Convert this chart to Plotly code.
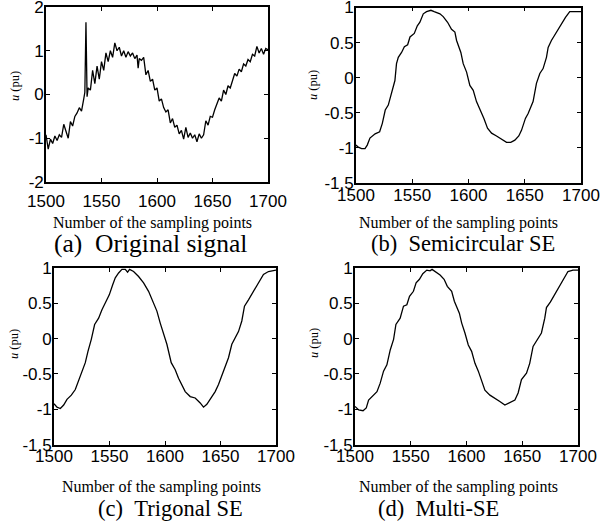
import plotly.graph_objects as go

# ---------------- data ----------------
orig_x = [1500, 1502, 1504, 1506, 1508, 1510, 1512, 1514, 1516, 1518, 1520, 1522, 1524, 1526, 1528,
          1530, 1532, 1534, 1535, 1536, 1537, 1538, 1540, 1542, 1544, 1546, 1548, 1550, 1552, 1554,
          1556, 1558, 1560, 1562, 1564, 1566, 1568, 1570, 1572, 1574, 1576, 1578, 1580, 1582, 1583,
          1584, 1586, 1588, 1590, 1592, 1594, 1596, 1598, 1600, 1602, 1604, 1606, 1608, 1610, 1612,
          1614, 1616, 1618, 1620, 1622, 1624, 1626, 1628, 1630, 1632, 1634, 1636, 1638, 1640, 1642,
          1644, 1646, 1648, 1650, 1652, 1654, 1656, 1658, 1660, 1662, 1664, 1666, 1668, 1670, 1672,
          1674, 1676, 1678, 1680, 1682, 1684, 1686, 1688, 1690, 1692, 1694, 1696, 1698, 1700]
orig_u = [-0.92, -1.25, -1.02, -1.12, -0.95, -1.05, -0.92, -0.98, -0.68, -0.85, -1.00, -0.62, -0.72, -0.50, -0.42,
          -0.30, -0.38, -0.10, 0.05, 1.65, -0.05, 0.15, 0.10, 0.55, 0.25, 0.65, 0.35, 0.75, 0.55, 0.95,
          0.75, 1.00, 0.85, 1.18, 1.00, 1.08, 0.88, 1.00, 0.85, 0.98, 0.88, 0.95, 0.82, 0.90, 0.60,
          0.82, 0.78, 0.85, 0.45, 0.55, 0.30, 0.35, 0.10, 0.15, -0.15, -0.10, -0.30, -0.40, -0.35, -0.65,
          -0.55, -0.75, -0.70, -0.90, -0.82, -1.02, -0.75, -0.98, -0.88, -1.00, -0.92, -1.08, -0.90, -1.00, -0.92,
          -0.60, -0.70, -0.50, -0.52, -0.35, -0.20, -0.08, -0.15, 0.10, 0.00, 0.20, 0.15, 0.30, 0.48, 0.42,
          0.58, 0.52, 0.70, 0.65, 0.80, 0.75, 0.92, 0.88, 1.10, 0.95, 1.05, 0.92, 1.05, 1.02]

semi_x = [1500, 1502, 1505, 1508, 1510, 1512.4, 1517, 1521, 1523.4, 1526, 1528.7, 1531.6, 1534.6, 1536,
          1537.6, 1540.5, 1543, 1545.9, 1548, 1551.8, 1554.5, 1556.8, 1559.8, 1562.7, 1566.6, 1569.5,
          1574.6, 1577.5, 1581.4, 1584.9, 1587.9, 1589.4, 1593.2, 1595.3, 1598.3, 1601.2, 1604.2, 1607.1,
          1610.7, 1613.7, 1616.9, 1620.5, 1624.9, 1629.3, 1633.8, 1637.6, 1641.2, 1644.7, 1647.1, 1650.6,
          1653, 1657.4, 1660.4, 1663.4, 1666.3, 1669.3, 1670.8, 1673.7, 1678.2, 1682.6, 1686.2, 1690, 1700]
semi_u = [-0.96, -0.99, -1.01, -1.01, -0.96, -0.86, -0.80, -0.77, -0.65, -0.46, -0.39, -0.20, -0.04, 0.20,
          0.29, 0.36, 0.44, 0.47, 0.58, 0.63, 0.74, 0.79, 0.91, 0.94, 0.96, 0.94,
          0.91, 0.87, 0.79, 0.69, 0.65, 0.53, 0.36, 0.20, 0.08, -0.11, -0.18, -0.34,
          -0.46, -0.58, -0.72, -0.79, -0.83, -0.88, -0.92, -0.92, -0.89, -0.83, -0.75, -0.58,
          -0.51, -0.34, -0.08, 0.06, 0.13, 0.29, 0.43, 0.53, 0.65, 0.76, 0.86, 0.94, 0.94]

tri_x = [1500, 1502.7, 1505.7, 1508.7, 1511.7, 1515.6, 1519.2, 1522.2, 1525.8, 1528.2, 1530.6, 1533.6,
         1536.6, 1540.2, 1543.2, 1546.8, 1549.8, 1552.8, 1555.2, 1558.2, 1561.2, 1564.2, 1566.3, 1568.1,
         1571.7, 1576.2, 1580.7, 1585.2, 1588.8, 1592.7, 1595.7, 1598.7, 1601.7, 1605.6, 1609.2, 1612.2,
         1615.2, 1618.2, 1622.7, 1627.2, 1631.7, 1634.7, 1637.7, 1641.6, 1645.2, 1648.2, 1651.2, 1654.2,
         1657.2, 1660.2, 1663.2, 1666.2, 1669.2, 1671.6, 1675.2, 1679.7, 1684.2, 1688.7, 1693.2, 1700]
tri_u = [-0.92, -0.97, -0.99, -0.94, -0.86, -0.80, -0.72, -0.60, -0.46, -0.34, -0.18, -0.01,
         0.20, 0.29, 0.41, 0.53, 0.62, 0.76, 0.86, 0.93, 0.98, 0.98, 0.94, 0.98,
         0.95, 0.88, 0.79, 0.67, 0.53, 0.39, 0.22, 0.08, -0.08, -0.34, -0.44, -0.56,
         -0.65, -0.75, -0.82, -0.84, -0.91, -0.97, -0.93, -0.84, -0.75, -0.65, -0.53, -0.39,
         -0.27, -0.08, 0.01, 0.10, 0.25, 0.46, 0.55, 0.67, 0.79, 0.91, 0.95, 0.97]

multi_x = [1500, 1503.3, 1507.2, 1510.1, 1512.2, 1515.2, 1519.7, 1522.6, 1525.6, 1528.6, 1531.6, 1534.6,
           1536.7, 1540.5, 1543.5, 1546.5, 1548.9, 1552.4, 1554.8, 1557.8, 1560.8, 1564.4, 1567.3, 1569.1,
           1571.8, 1576.3, 1579.9, 1582.8, 1586.7, 1589.1, 1593.6, 1595.7, 1598.6, 1601.6, 1604.6, 1607.6,
           1610.6, 1613.5, 1616.5, 1621, 1625.5, 1629.9, 1634.4, 1638.9, 1643.4, 1646.3, 1649.3, 1653.8,
           1656.7, 1659.7, 1663.6, 1667.2, 1670.2, 1671.7, 1675.3, 1679.2, 1683.6, 1687.2, 1691, 1695.5, 1700]
multi_u = [-0.96, -1.01, -1.02, -0.98, -0.87, -0.82, -0.75, -0.63, -0.46, -0.37, -0.16, -0.01,
           0.20, 0.29, 0.46, 0.48, 0.60, 0.67, 0.79, 0.84, 0.92, 0.97, 0.96, 0.98,
           0.95, 0.90, 0.84, 0.74, 0.67, 0.53, 0.36, 0.22, 0.08, -0.09, -0.18, -0.35,
           -0.46, -0.58, -0.73, -0.80, -0.84, -0.89, -0.94, -0.91, -0.87, -0.77, -0.58, -0.49,
           -0.35, -0.11, -0.01, 0.08, 0.29, 0.44, 0.52, 0.63, 0.74, 0.84, 0.95, 0.97, 0.97]

x_ticks = [1500, 1550, 1600, 1650, 1700]
x_tick_text = ["1500", "1550", "1600", "1650", "1700"]
ya_ticks = [-2, -1, 0, 1, 2]
ya_tick_text = ["-2", "-1", "0", "1", "2"]
yb_ticks = [-1.5, -1, -0.5, 0, 0.5, 1]
yb_tick_text = ["-1.5", "-1", "-0.5", "0", "0.5", "1"]

captions = ["(a)\u00a0\u00a0Original signal", "(b)\u00a0\u00a0Semicircular SE",
            "(c)\u00a0\u00a0Trigonal SE", "(d)\u00a0\u00a0Multi-SE"]
x_title = "Number of the sampling points"
y_title = "<i>u</i> (pu)"

W, H = 602, 523
SANS = "Liberation Sans, Arial, sans-serif"
SERIF = "Liberation Serif, Times New Roman, serif"

# panel layout in pixels
boxes = [(46, 268, 7, 182), (356, 581, 7.5, 183), (54, 276, 268, 444.6), (355, 578, 268, 444.6)]
xtitle_pos = [(152.5, 223), (458, 223), (161.5, 487), (458.5, 487)]
caption_pos = [(150, 243), (463, 243), (171, 508), (438, 508)]
caption_size = [25.5, 22.5, 22.5, 22.5]
ytitle_pos = [(15, 86), (313, 85), (14, 344), (314, 343)]
xlabel_standoff = [3, -4, -5, -5]

series = [(orig_x, orig_u), (semi_x, semi_u), (tri_x, tri_u), (multi_x, multi_u)]

fig = go.Figure()
layout = dict(width=W, height=H, margin=dict(l=0, r=0, t=0, b=0, autoexpand=False),
              paper_bgcolor="white", plot_bgcolor="white", showlegend=False)

annotations = []
for i, ((l, r, t, b), (xs, ys)) in enumerate(zip(boxes, series)):
    n = "" if i == 0 else str(i + 1)
    fig.add_trace(go.Scatter(x=xs, y=ys, mode="lines", line=dict(color="black", width=1.3),
                             xaxis="x" + n, yaxis="y" + n, hoverinfo="skip", cliponaxis=True))
    common = dict(showline=True, linecolor="black", linewidth=1.7, mirror="ticks",
                  ticks="inside", ticklen=4, tickwidth=1, tickcolor="black",
                  showgrid=False, zeroline=False, automargin=False,
                  ticklabeloverflow="allow",
                  tickfont=dict(family=SANS, size=17, color="black"))
    if i == 0:
        yv, yt, yr = ya_ticks, ya_tick_text, [-2, 2]
    else:
        yv, yt, yr = yb_ticks, yb_tick_text, [-1.5, 1]
    layout["xaxis" + n] = dict(domain=[l / W, r / W], range=[1500, 1700], anchor="y" + n,
                               tickmode="array", tickvals=x_ticks, ticktext=x_tick_text,
                               ticklabelstandoff=xlabel_standoff[i], **common)
    layout["yaxis" + n] = dict(domain=[1 - b / H, 1 - t / H], range=yr, anchor="x" + n,
                               tickmode="array", tickvals=yv, ticktext=yt,
                               ticklabelstandoff=-3, **common)
    tx, ty = xtitle_pos[i]
    annotations.append(dict(text=x_title, x=tx / W, y=1 - ty / H, xref="paper", yref="paper",
                            showarrow=False, xanchor="center", yanchor="middle",
                            font=dict(family=SERIF, size=16, color="black")))
    cx, cy = caption_pos[i]
    annotations.append(dict(text=captions[i], x=cx / W, y=1 - cy / H, xref="paper", yref="paper",
                            showarrow=False, xanchor="center", yanchor="middle",
                            font=dict(family=SERIF, size=caption_size[i], color="black")))
    yx, yy = ytitle_pos[i]
    annotations.append(dict(text=y_title, x=yx / W, y=1 - yy / H,
                            xref="paper", yref="paper", showarrow=False, textangle=-90,
                            xanchor="center", yanchor="middle",
                            font=dict(family=SERIF, size=12.5, color="black")))

layout["annotations"] = annotations
fig.update_layout(**layout)
fig.write_html("out.html", config={"displayModeBar": False},
               post_script="document.body.style.margin='0';document.body.style.padding='0';"
                           "document.body.style.overflow='hidden';")
